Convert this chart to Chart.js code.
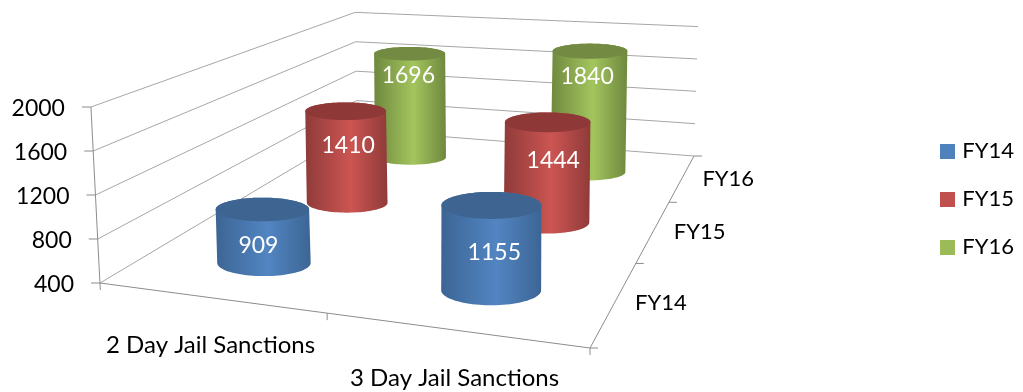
<!DOCTYPE html>
<html><head><meta charset="utf-8">
<style>html,body{margin:0;padding:0;background:#fff}canvas{display:block}</style>
<script src="https://cdn.jsdelivr.net/npm/chart.js@4"></script></head>
<body><canvas id="c" width="1023" height="392"></canvas>
<script>
const categories = ['2 Day Jail Sanctions', '3 Day Jail Sanctions'];
const seriesNames = ['FY14', 'FY15', 'FY16'];
const fy14 = [909, 1155];
const fy15 = [1410, 1444];
const fy16 = [1696, 1840];
const yMin = 400, yMax = 2000, yStep = 400;

const FONT = 'Lato, Carlito, sans-serif';
const TXT = '#000000';
const GRID = '#a6a6a6', AXIS = '#8c8c8c';
const palette = [
  {mid:'#5285c2', edge:'#3c6594', top:'#3e6591'},
  {mid:'#cc5552', edge:'#8f3b39', top:'#8e3937'},
  {mid:'#a3c55e', edge:'#6f883e', top:'#728a41'}
];
const legendColor = ['#4f81bd','#c0504d','#9bbb59'];

/* oblique view of the chart's box: floor corners and vertical vanishing point */
const Q = {fl:[100,283], fr:[590,348], br:[694,156], bl:[357,130]};
const VP = [467,7417], H = 176;
const RX = 49, RY = 13, LABEL_DROP = 44, SHIFT_X = 2, SHIFT_Y = 3;
/* small per-label adjustments (series, category) → [dx, dy] */
const labelNudge = [[[-5,1],[3,1]],[[2,4.5],[6,5]],[[-1.5,-1],[-2.5,0]]];
const homog = (() => {
  const {fl,fr,br,bl} = Q;
  const dx1=fr[0]-br[0],dx2=bl[0]-br[0],sx=fl[0]-fr[0]+br[0]-bl[0];
  const dy1=fr[1]-br[1],dy2=bl[1]-br[1],sy=fl[1]-fr[1]+br[1]-bl[1];
  const den=dx1*dy2-dx2*dy1;
  const g=(sx*dy2-dx2*sy)/den,h=(dx1*sy-sx*dy1)/den;
  return {g,h,
    a:fr[0]-fl[0]+g*fr[0],b:bl[0]-fl[0]+h*bl[0],c:fl[0],
    d:fr[1]-fl[1]+g*fr[1],e:bl[1]-fl[1]+h*bl[1],f:fl[1]};
})();
const depthW = (u,v) => 1+homog.g*u+homog.h*v;
function project(u,v,t){
  const m=homog,w=depthW(u,v);
  const x=(m.a*u+m.b*v+m.c)/w,y=(m.d*u+m.e*v+m.f)/w;
  const hh=t*H/w;
  return [x+(x-VP[0])/(VP[1]-y)*hh, y-hh];
}
function hull(pts){
  const p=pts.slice().sort((a,b)=>a[0]-b[0]||a[1]-b[1]);
  const cr=(o,a,b)=>(a[0]-o[0])*(b[1]-o[1])-(a[1]-o[1])*(b[0]-o[0]);
  const lo=[],up=[];
  for(const q of p){while(lo.length>1&&cr(lo[lo.length-2],lo[lo.length-1],q)<=0)lo.pop();lo.push(q);}
  for(const q of p.reverse()){while(up.length>1&&cr(up[up.length-2],up[up.length-1],q)<=0)up.pop();up.push(q);}
  return lo.slice(0,-1).concat(up.slice(0,-1));
}
function poly(ctx,pts){ctx.beginPath();pts.forEach((q,i)=>i?ctx.lineTo(q[0],q[1]):ctx.moveTo(q[0],q[1]));ctx.closePath();}
function seg(ctx,a,b,col){ctx.strokeStyle=col;ctx.lineWidth=1;ctx.beginPath();ctx.moveTo(a[0],a[1]);ctx.lineTo(b[0],b[1]);ctx.stroke();}
const frac = s => ({
  x:p=>(p-s.left)/s.width,
  y:p=>(s.bottom-p)/s.height
});

class Cylinder3D extends Chart.BarController {
  draw(){
    const ctx=this.chart.ctx, sx=this.chart.scales.x, sy=this.chart.scales.y, sz=this.chart.scales.z;
    const i=this.index, col=palette[i];
    const v=frac(sz).x(sz.getPixelForValue(i));
    this.getDataset().data.forEach((val,k)=>{
      const u=frac(sx).x(sx.getPixelForValue(k));
      const t=frac(sy).y(sy.getPixelForValue(val));
      const w=depthW(u,v), rx=RX/w, ry=RY/(w*w), ox=SHIFT_X/w, oy=SHIFT_Y/w;
      const ring=(tt,k2)=>{const c=project(u,v,tt),a=[];for(let n=0;n<90;n++){const th=n/90*2*Math.PI;a.push([c[0]+ox+rx*Math.cos(th),c[1]+oy+k2*ry*Math.sin(th)]);}return a;};
      const bot=ring(0,1.12),top=ring(t,1),all=hull(bot.concat(top));
      const xs=all.map(q=>q[0]),x0=Math.min(...xs),x1=Math.max(...xs);
      const gr=ctx.createLinearGradient(x0,0,x1,0);
      gr.addColorStop(0,col.edge);gr.addColorStop(0.55,col.mid);gr.addColorStop(1,col.edge);
      ctx.save();
      poly(ctx,all);ctx.fillStyle=gr;ctx.fill();
      poly(ctx,top);ctx.fillStyle=col.top;ctx.fill();
      const pt=project(u,v,t),pb=project(u,v,0);
      const drop=Math.min(LABEL_DROP/(w*w),0.66*(pb[1]-pt[1]));
      const f=drop/(pb[1]-pt[1]);
      const nudge=labelNudge[i][k];
      ctx.fillStyle='#fff';ctx.font='23px '+FONT;ctx.textAlign='center';ctx.textBaseline='middle';
      ctx.fillText(String(val),pt[0]+(pb[0]-pt[0])*f+ox+nudge[0],pt[1]+drop+oy+nudge[1]);
      ctx.restore();
    });
  }
}
Cylinder3D.id='cylinder3d';
Chart.register(Cylinder3D);

const boxPlugin = {
  id:'box3d',
  beforeDatasetsDraw(chart){
    const ctx=chart.ctx, sx=chart.scales.x, sy=chart.scales.y, sz=chart.scales.z;
    ctx.save();
    sy.ticks.forEach(tk=>{
      const t=frac(sy).y(sy.getPixelForValue(tk.value));
      const a=project(0,0,t),b=project(0,1,t),c=project(1,1,t);
      seg(ctx,a,b,GRID);seg(ctx,b,c,GRID);
      seg(ctx,[a[0]-9,a[1]],a,AXIS);
      ctx.fillStyle=TXT;ctx.font='23px '+FONT;ctx.textAlign='right';ctx.textBaseline='middle';
      ctx.fillText(String(tk.value),a[0]-26,a[1]+2);
    });
    const o=project(0,0,0),ot=project(0,0,1),fr=project(1,0,0),br=project(1,1,0);
    seg(ctx,ot,[o[0]+0.3,o[1]+7],AXIS);
    seg(ctx,o,fr,AXIS);seg(ctx,fr,br,AXIS);
    [0.5,1].forEach(u=>{const p=project(u,0,0);seg(ctx,p,[p[0],p[1]+7],AXIS);});
    [0,1/3,2/3,1].forEach(v=>{const p=project(1,v,0);seg(ctx,p,[p[0]+8,p[1]],AXIS);});
    ctx.fillStyle=TXT;ctx.textAlign='center';ctx.textBaseline='middle';
    ctx.font='24px '+FONT;
    categories.forEach((lab,k)=>{
      const p=project(frac(sx).x(sx.getPixelForValue(k)),0,0);
      ctx.fillText(lab,p[0]+1,p[1]+48);
    });
    ctx.font='22px '+FONT;
    seriesNames.forEach((lab,i)=>{
      const p=project(1,frac(sz).x(sz.getPixelForValue(i)),0);
      ctx.fillText(lab,p[0]+46,p[1]+1);
    });
    ctx.restore();
  }
};

function swatch(color){
  const s=document.createElement('canvas');s.width=15;s.height=15;
  const g=s.getContext('2d');g.fillStyle=color;g.fillRect(0,0,15,15);return s;
}
const swatches=legendColor.map(swatch);

new Chart(document.getElementById('c'),{
  type:'cylinder3d',
  data:{labels:categories,datasets:[
    {label:seriesNames[0],data:fy14,backgroundColor:legendColor[0]},
    {label:seriesNames[1],data:fy15,backgroundColor:legendColor[1]},
    {label:seriesNames[2],data:fy16,backgroundColor:legendColor[2]}
  ]},
  options:{
    responsive:false,animation:false,
    layout:{padding:{top:6,right:-1}},
    scales:{
      x:{type:'category',offset:true,display:false},
      y:{type:'linear',min:yMin,max:yMax,ticks:{stepSize:yStep},display:false},
      z:{type:'category',axis:'x',labels:seriesNames,offset:true,display:false}
    },
    plugins:{
      tooltip:{enabled:false},
      legend:{position:'right',labels:{
        usePointStyle:true,pointStyleWidth:7,boxHeight:15,padding:26,color:TXT,
        font:{family:FONT,size:22},
        generateLabels:ch=>ch.data.datasets.map((d,i)=>({text:d.label,datasetIndex:i,fillStyle:legendColor[i],strokeStyle:legendColor[i],lineWidth:0,pointStyle:swatches[i],fontColor:TXT}))
      }}
    }
  },
  plugins:[boxPlugin]
});
</script></body></html>
